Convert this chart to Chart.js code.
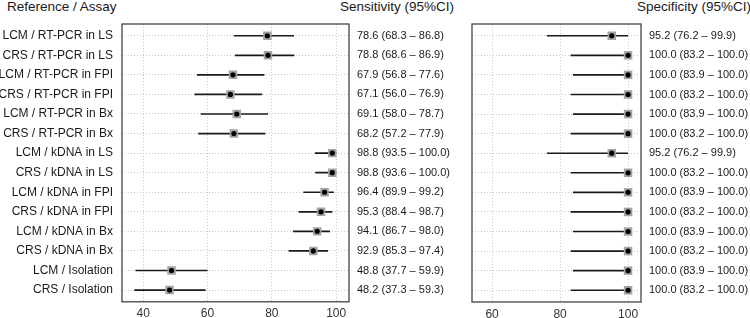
<!DOCTYPE html>
<html>
<head>
<meta charset="utf-8">
<script src="https://cdn.jsdelivr.net/npm/chart.js@4"></script>
<style>
  body { margin: 0; background: #fff; width: 750px; height: 318px; position: relative; overflow: hidden; font-family: "Liberation Sans", Arial, sans-serif; }
  .panel { position: absolute; top: 0; height: 318px; }
  .titulo { position: absolute; top: -1px; font-size: 13.5px; line-height: 16px; color: #1a1a1a; white-space: nowrap; }
</style>
</head>
<body>
<div class="titulo" style="left:7px">Reference / Assay</div>
<div class="titulo" style="left:340px">Sensitivity (95%CI)</div>
<div class="titulo" style="left:637px">Specificity (95%CI)</div>
<div class="panel" style="left:0;width:460px"><canvas id="chartSensibilidad"></canvas></div>
<div class="panel" style="left:460px;width:290px"><canvas id="chartEspecificidad"></canvas></div>
<script>
const filas = [
    "LCM / RT-PCR in LS", "CRS / RT-PCR in LS",
    "LCM / RT-PCR in FPI", "CRS / RT-PCR in FPI",
    "LCM / RT-PCR in Bx", "CRS / RT-PCR in Bx",
    "LCM / kDNA in LS", "CRS / kDNA in LS",
    "LCM / kDNA in FPI", "CRS / kDNA in FPI",
    "LCM / kDNA in Bx", "CRS / kDNA in Bx",
    "LCM / Isolation", "CRS / Isolation"
];

const sensibilidad = [78.6, 78.8, 67.9, 67.1, 69.1, 68.2, 98.8, 98.8, 96.4, 95.3, 94.1, 92.9, 48.8, 48.2];
const sensInferior = [68.3, 68.6, 56.8, 56.0, 58.0, 57.2, 93.5, 93.6, 89.9, 88.4, 86.7, 85.3, 37.7, 37.3];
const sensSuperior = [86.8, 86.9, 77.6, 76.9, 78.7, 77.9, 100.0, 100.0, 99.2, 98.7, 98.0, 97.4, 59.9, 59.3];

const especificidad = [95.2, 100.0, 100.0, 100.0, 100.0, 100.0, 95.2, 100.0, 100.0, 100.0, 100.0, 100.0, 100.0, 100.0];
const espInferior = [76.2, 83.2, 83.9, 83.2, 83.9, 83.2, 76.2, 83.2, 83.9, 83.2, 83.9, 83.2, 83.9, 83.2];
const espSuperior = [99.9, 100.0, 100.0, 100.0, 100.0, 100.0, 99.9, 100.0, 100.0, 100.0, 100.0, 100.0, 100.0, 100.0];

const ticksSensibilidad = [40, 60, 80, 100];
const ticksEspecificidad = [60, 80, 100];

const colorTexto = "#1a1a1a";
const colorGrid = "#c8c8c8";

function textoIC(valores, inf, sup) {
    return valores.map((v, i) => `${v.toFixed(1)} (${inf[i].toFixed(1)} – ${sup[i].toFixed(1)})`);
}

// marco alrededor del area del grafico
const marcoPanel = {
    id: "marcoPanel",
    afterDatasetsDraw(chart) {
        const { ctx, chartArea: a } = chart;
        ctx.save();
        ctx.strokeStyle = "#444";
        ctx.lineWidth = 1.3;
        ctx.strokeRect(a.left, a.top, a.right - a.left, a.bottom - a.top);
        ctx.restore();
    }
};

function ticksFilas(scale) {
    scale.ticks = filas.map((_, i) => ({ value: i }));
}

function crearPanel(canvasId, valores, inf, sup, ticksX, xMin, xMax, anchoIzq, anchoDer, conEtiquetas) {
    const textos = textoIC(valores, inf, sup);
    const ctx = document.getElementById(canvasId);

    return new Chart(ctx, {
        type: "bar",
        data: {
            datasets: [
                {
                    type: "scatter",
                    order: 0,
                    data: valores.map((v, i) => ({ x: v, y: i })),
                    pointStyle: "circle",
                    pointRadius: 2.6,
                    pointBackgroundColor: "#000",
                    pointBorderWidth: 0
                },
                {
                    type: "scatter",
                    order: 1,
                    data: valores.map((v, i) => ({ x: v, y: i })),
                    pointStyle: "rect",
                    pointRadius: 6,
                    pointBackgroundColor: "#a3a3a3",
                    pointBorderWidth: 0
                },
                {
                    type: "bar",
                    order: 2,
                    indexAxis: "y",
                    data: inf.map((lo, i) => ({ x: [lo, sup[i]], y: i })),
                    backgroundColor: "#1a1a1a",
                    borderWidth: 0,
                    barThickness: 1
                }
            ]
        },
        options: {
            responsive: true,
            maintainAspectRatio: false,
            animation: false,
            indexAxis: "y",
            layout: { padding: { top: 24, left: 0, right: 0, bottom: 0 } },
            plugins: { legend: { display: false }, tooltip: { enabled: false } },
            scales: {
                x: {
                    type: "linear",
                    position: "bottom",
                    min: xMin,
                    max: xMax,
                    offset: false,
                    beginAtZero: false,
                    afterBuildTicks: scale => { scale.ticks = ticksX.map(v => ({ value: v })); },
                    afterFit: scale => { scale.height = 16; },
                    grid: { color: colorGrid, drawTicks: false, offset: false },
                    border: { display: false, dash: [1, 2] },
                    ticks: {
                        padding: 5,
                        color: "#333",
                        font: { family: "Liberation Sans", size: 12 },
                        maxRotation: 0,
                        autoSkip: false
                    }
                },
                y: {
                    type: "linear",
                    position: "left",
                    reverse: true,
                    min: -0.6,
                    max: 13.6,
                    offset: false,
                    afterBuildTicks: ticksFilas,
                    afterFit: scale => { scale.width = anchoIzq; },
                    grid: { color: colorGrid, drawTicks: false, offset: false },
                    border: { display: false, dash: [1, 2] },
                    ticks: {
                        display: conEtiquetas,
                        padding: 9,
                        autoSkip: false,
                        color: colorTexto,
                        font: { family: "Liberation Sans", size: 12 },
                        callback: v => filas[v]
                    }
                },
                y2: {
                    type: "linear",
                    position: "right",
                    reverse: true,
                    min: -0.6,
                    max: 13.6,
                    offset: false,
                    afterBuildTicks: ticksFilas,
                    afterFit: scale => { scale.width = anchoDer; },
                    grid: { drawOnChartArea: false, drawTicks: false },
                    border: { display: false },
                    ticks: {
                        padding: 8,
                        autoSkip: false,
                        color: colorTexto,
                        font: { family: "Liberation Sans", size: 11 },
                        callback: v => textos[v]
                    }
                }
            }
        },
        plugins: [marcoPanel]
    });
}

crearPanel("chartSensibilidad", sensibilidad, sensInferior, sensSuperior, ticksSensibilidad, 33.4, 104, 122, 111, true);
crearPanel("chartEspecificidad", especificidad, espInferior, espSuperior, ticksEspecificidad, 54.1, 103.8, 12, 109, false);
</script>
</body>
</html>
